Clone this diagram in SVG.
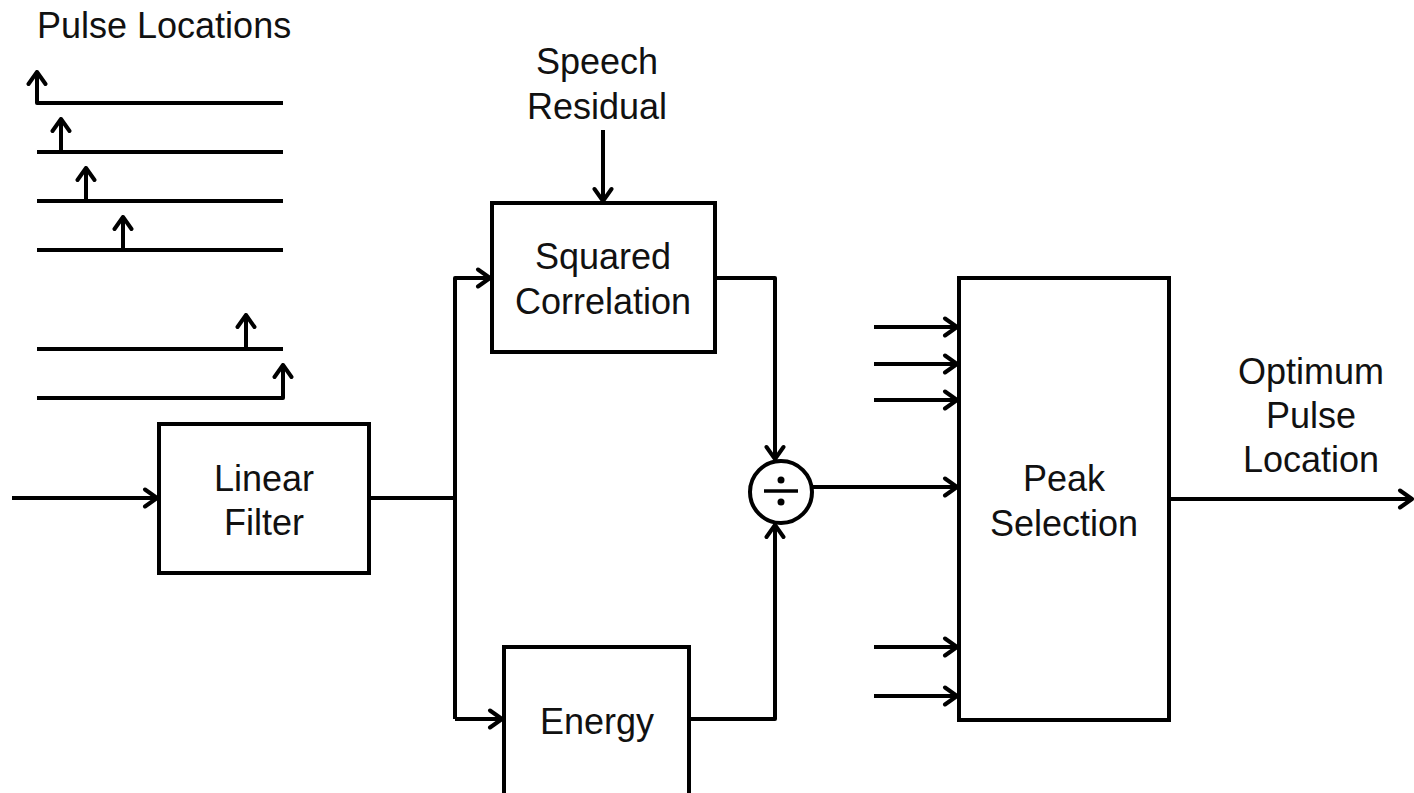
<svg xmlns="http://www.w3.org/2000/svg" width="1414" height="793" viewBox="0 0 1414 793">
<style>
.box{fill:#fff;stroke:#000;stroke-width:4}
.ln{fill:none;stroke:#000;stroke-width:4;stroke-linejoin:round}
.lbl{font-family:"Liberation Sans",Arial,sans-serif;font-size:36px;fill:#111;text-anchor:middle}
.lbs{font-family:"Liberation Sans",Arial,sans-serif;font-size:36px;fill:#111}
</style>
<defs>
<marker id="ah" markerUnits="userSpaceOnUse" viewBox="-15 -11 17 22" markerWidth="17" markerHeight="22" refX="0" refY="0" orient="auto">
<path d="M-12,-8.5 L0,0 L-12,8.5" fill="none" stroke="#000" stroke-width="4" stroke-linecap="round" stroke-linejoin="round"/>
</marker>
</defs>
<rect width="1414" height="793" fill="#fff"/>
<g id="pulse-locations">
<text class="lbs" x="37" y="38">Pulse Locations</text>
<path class="ln" d="M283,103 H37 V72" marker-end="url(#ah)"/>
<path class="ln" d="M37,152 H283"/>
<path class="ln" d="M61,152 V119" marker-end="url(#ah)"/>
<path class="ln" d="M37,201 H283"/>
<path class="ln" d="M86,201 V168" marker-end="url(#ah)"/>
<path class="ln" d="M37,250 H283"/>
<path class="ln" d="M123,250 V217" marker-end="url(#ah)"/>
<path class="ln" d="M37,349 H283"/>
<path class="ln" d="M246,349 V315" marker-end="url(#ah)"/>
<path class="ln" d="M37,398 H283 V365" marker-end="url(#ah)"/>
</g>
<g id="linear-filter">
<rect class="box" x="159" y="424" width="210" height="149"/>
<text class="lbl" x="264" y="491">Linear</text>
<text class="lbl" x="264" y="535">Filter</text>
</g>
<g id="squared-correlation">
<rect class="box" x="492" y="203" width="223" height="149"/>
<text class="lbl" x="603" y="269">Squared</text>
<text class="lbl" x="603" y="314">Correlation</text>
</g>
<g id="speech-residual">
<text class="lbl" x="597" y="74">Speech</text>
<text class="lbl" x="597" y="119">Residual</text>
</g>
<g id="energy">
<rect class="box" x="504" y="647" width="185" height="170"/>
<text class="lbl" x="597" y="734">Energy</text>
</g>
<g id="divide">
<circle cx="781" cy="492" r="31" fill="#fff" stroke="#000" stroke-width="4"/>
<line x1="764" y1="491" x2="798" y2="491" stroke="#000" stroke-width="3.5"/>
<circle cx="781" cy="480" r="3.5" fill="#000"/>
<circle cx="781" cy="502" r="3.5" fill="#000"/>
</g>
<g id="peak-selection">
<rect class="box" x="959" y="278" width="210" height="442"/>
<text class="lbl" x="1064" y="491">Peak</text>
<text class="lbl" x="1064" y="536">Selection</text>
</g>
<g id="optimum-label">
<text class="lbl" x="1311" y="384">Optimum</text>
<text class="lbl" x="1311" y="428">Pulse</text>
<text class="lbl" x="1311" y="472">Location</text>
</g>
<g id="connectors">
<path class="ln" d="M12,498 H157" marker-end="url(#ah)"/>
<path class="ln" d="M369,498 H455"/>
<path class="ln" d="M455,719 V278 H490" marker-end="url(#ah)"/>
<path class="ln" d="M455,719 H502" marker-end="url(#ah)"/>
<path class="ln" d="M603,130 V201" marker-end="url(#ah)"/>
<path class="ln" d="M715,278 H775 V459" marker-end="url(#ah)"/>
<path class="ln" d="M689,719 H775 V525" marker-end="url(#ah)"/>
<path class="ln" d="M813,487 H957" marker-end="url(#ah)"/>
<path class="ln" d="M874,327 H957" marker-end="url(#ah)"/>
<path class="ln" d="M874,364 H957" marker-end="url(#ah)"/>
<path class="ln" d="M874,400 H957" marker-end="url(#ah)"/>
<path class="ln" d="M874,647 H957" marker-end="url(#ah)"/>
<path class="ln" d="M874,696 H957" marker-end="url(#ah)"/>
<path class="ln" d="M1169,499 H1412" marker-end="url(#ah)"/>
</g>
</svg>
